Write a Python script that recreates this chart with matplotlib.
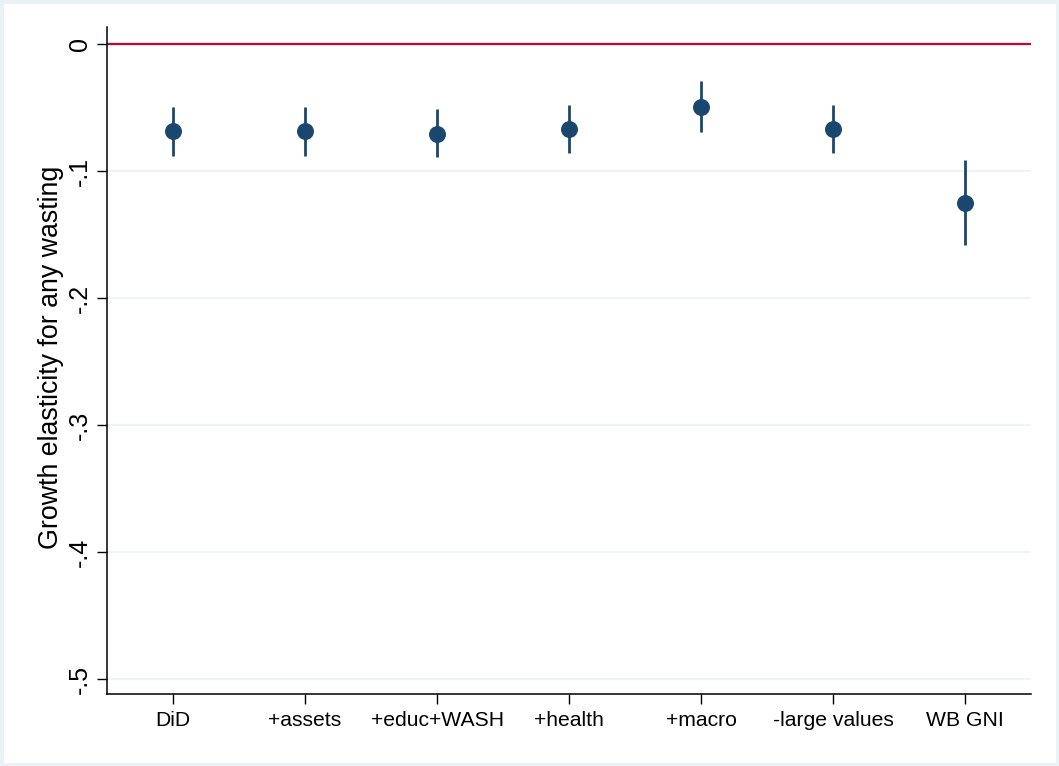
import matplotlib.pyplot as plt
from matplotlib.patches import Rectangle

plt.rcParams['font.family'] = ['Liberation Sans', 'DejaVu Sans']

labels = ['DiD', '+assets', '+educ+WASH', '+health', '+macro', '-large values', 'WB GNI']
est = [-0.0685, -0.0685, -0.0705, -0.067, -0.0495, -0.067, -0.125]
lo = [-0.0882, -0.0882, -0.089, -0.086, -0.069, -0.086, -0.158]
hi = [-0.0496, -0.0496, -0.051, -0.048, -0.029, -0.048, -0.091]
yticks = [0, -0.1, -0.2, -0.3, -0.4, -0.5]
ytick_labels = ['0', '-.1', '-.2', '-.3', '-.4', '-.5']

W, H = 1059, 766
fig = plt.figure(figsize=(W / 100, H / 100), dpi=100, facecolor='#eaf2f3')
fig.patches.append(Rectangle((4 / W, 3 / H), 1052 / W, 759 / H, transform=fig.transFigure,
                             facecolor='white', edgecolor='none', zorder=-10))
ax = fig.add_axes([107 / W, (H - 694) / H, 924 / W, 667 / H])
ax.patch.set_alpha(0)

navy = '#1a476f'
x = list(range(1, len(labels) + 1))
ax.vlines(x, lo, hi, color=navy, linewidth=2, zorder=3)
ax.scatter(x, est, s=125, color=navy, zorder=4)
ax.axhline(0, color='#c10534', linewidth=1.6, zorder=2)

ax.set_xlim(0.5, 7.5)
ax.set_ylim(-0.5118, 0.0134)
ax.set_yticks(yticks)
ax.set_yticklabels(ytick_labels, rotation=90, va='center')
ax.set_xticks(x)
ax.set_xticklabels(labels)
ax.grid(axis='y', color='#eaf2f3', linewidth=1.2, zorder=1)
ax.set_axisbelow(True)
ax.tick_params(axis='both', length=7, width=1, color='black')
ax.tick_params(axis='x', labelsize=15.2, pad=5)
ax.tick_params(axis='y', labelsize=18, pad=4)
ax.set_ylabel('Growth elasticity for any wasting', fontsize=19.3)
ax.yaxis.set_label_coords(-0.047, 0.505)

for s in ['top', 'right']:
    ax.spines[s].set_visible(False)
for s in ['left', 'bottom']:
    ax.spines[s].set_linewidth(1.1)

fig.savefig('out.png', dpi=100, facecolor=fig.get_facecolor())
